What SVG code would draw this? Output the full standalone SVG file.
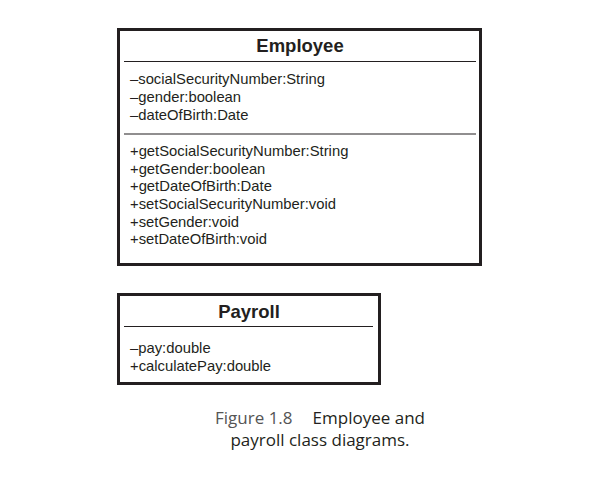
<svg xmlns="http://www.w3.org/2000/svg" width="606" height="482" viewBox="0 0 606 482">
<style>
.box{fill:#fff;stroke:#231f20;stroke-width:3}
.div{stroke:#231f20;stroke-width:1.2}
.title{font-family:"Liberation Sans",Arial,sans-serif;font-weight:bold;font-size:18.5px;fill:#231f20;text-anchor:middle}
.item{font-family:"Liberation Sans",Arial,sans-serif;font-size:14.8px;fill:#231f20}
.cap{font-family:"Open Sans","DejaVu Sans",sans-serif;font-size:17px;fill:#231f20;text-anchor:middle}
.fig{fill:#555}
</style>
<rect width="606" height="482" fill="#fff"/>
<g id="employee">
<rect class="box" x="118.5" y="29.5" width="362" height="235"/>
<text class="title" x="300" y="52">Employee</text>
<line class="div" x1="124" y1="61.5" x2="476" y2="61.5"/>
<text class="item" x="130" y="84">–socialSecurityNumber:String</text>
<text class="item" x="130" y="102">–gender:boolean</text>
<text class="item" x="130" y="120">–dateOfBirth:Date</text>
<line class="div" x1="124" y1="134" x2="476" y2="134"/>
<text class="item" x="130" y="156">+getSocialSecurityNumber:String</text>
<text class="item" x="130" y="174">+getGender:boolean</text>
<text class="item" x="130" y="191">+getDateOfBirth:Date</text>
<text class="item" x="130" y="209">+setSocialSecurityNumber:void</text>
<text class="item" x="130" y="227">+setGender:void</text>
<text class="item" x="130" y="244">+setDateOfBirth:void</text>
</g>
<g id="payroll">
<rect class="box" x="118.5" y="294.5" width="261" height="89"/>
<text class="title" x="249" y="318">Payroll</text>
<line class="div" x1="124" y1="326.5" x2="373" y2="326.5"/>
<text class="item" x="130" y="353">–pay:double</text>
<text class="item" x="130" y="371">+calculatePay:double</text>
</g>
<g id="caption">
<text class="cap" x="320" y="424"><tspan class="fig">Figure 1.8</tspan><tspan dx="20">Employee and</tspan></text>
<text class="cap" x="320" y="446">payroll class diagrams.</text>
</g>
</svg>
